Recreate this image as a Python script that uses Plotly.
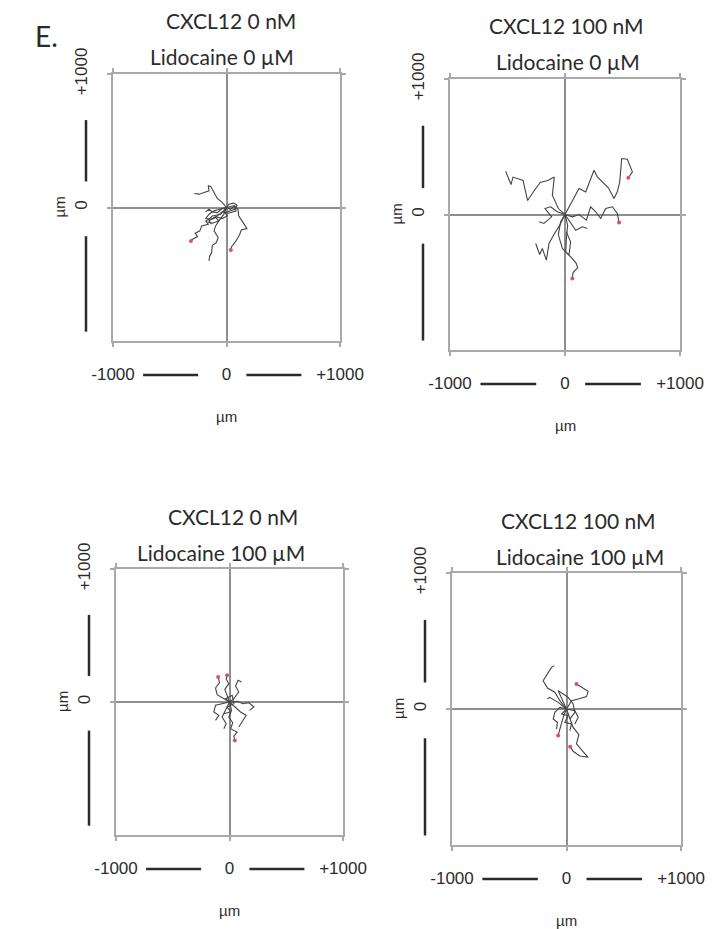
import plotly.graph_objects as go

# ---------------- data ----------------
PANEL_LABEL = "E."
TITLES_TOP = ["CXCL12 0 nM", "CXCL12 100 nM", "CXCL12 0 nM", "CXCL12 100 nM"]
TITLES_BOTTOM = ["Lidocaine 0 µM", "Lidocaine 0 µM", "Lidocaine 100 µM", "Lidocaine 100 µM"]
X_TICKS = [-1000, 0, 1000]
X_TICK_TEXT = ["-1000", "0", "+1000"]
Y_TICKS = [0, 1000]
Y_TICK_TEXT = ["0", "+1000"]
UNIT = "µm"
AXIS_RANGE = [-1000, 1000]

# Panel 1: CXCL12 0 nM / Lidocaine 0 µM (track coordinates in µm)
P1_X = [
    [0, -38, -81, -110, -139, -160, -154, -197, -241, -284],
    [0, -52, -125, -154, -183, -160, -218, -235, -276, -255, -299, -313],
    [0, -23, -67, -96, -110, -73, -90, -125, -131, -148, -154],
    [0, 64, 102, 107, 142, 180, 131, 113, 78, 44, 38],
    [0, -52, -110, -154, -183, -139, -96, -67, -125, -168],
    [0, 20, 64, 93, 73, 35, -9],
    [0, -38, -81, -125, -154, -183],
    [0, 35, 73, 85, 20, -38, -81, -125],
    [0, -23, 6, -38, -96, -154, -131],
]
P1_Y = [
    [0, 38, 68, 113, 158, 163, 125, 113, 100, 105],
    [0, -50, -63, -88, -100, -125, -138, -175, -193, -218, -238, -250],
    [0, -50, -100, -138, -175, -225, -263, -283, -338, -363, -400],
    [0, 13, -13, -63, -108, -158, -168, -208, -258, -293, -318],
    [0, -13, -25, -50, -83, -88, -75, -100, -118, -108],
    [0, 25, 33, 18, -13, -25, -38],
    [0, -8, -38, -33, -13, -33],
    [0, -13, 13, -25, -43, -33, -63, -88],
    [0, -25, -63, -83, -68, -100, -125],
]
P1_RED = [False, True, False, True, False, False, False, False, False]

# Panel 2: CXCL12 100 nM / Lidocaine 0 µM
P2_X = [
    [0, 35, 78, 122, 180, 252, 281, 325, 377, 426, 455, 476, 493, 542, 586, 551],
    [0, -58, -110, -93, -151, -215, -267, -325, -365, -452, -470, -516],
    [0, 64, 122, 186, 223, 267, 310, 354, 412, 455, 470],
    [0, 23, 12, 6, 64, 99, 110, 70, 64],
    [0, -46, -96, -139, -162, -197, -220, -255],
    [0, -67, -125, -174, -116, -183, -226],
    [0, -38, -58, -23, 35, 49, 12],
    [0, 49, 93, 151, 194],
]
P2_Y = [
    [0, 57, 118, 192, 167, 327, 278, 241, 197, 118, 167, 241, 413, 408, 315, 271],
    [0, 44, 143, 276, 251, 236, 177, 103, 251, 276, 221, 320],
    [0, -17, 0, -42, 57, 20, -30, 44, 57, 7, -59],
    [0, -79, -177, -276, -325, -362, -394, -428, -472],
    [0, -79, -148, -214, -337, -251, -295, -214],
    [0, 20, 57, 44, -17, -66, -54],
    [0, -54, -148, -251, -300, -202, -128],
    [0, -66, -116, -91, -103],
]
P2_RED = [True, False, True, True, False, False, False, False]

# Panel 3: CXCL12 0 nM / Lidocaine 100 µM
P3_X = [
    [0, -18, -41, -6, -29, -21],
    [0, -50, -109, -123, -88, -100],
    [0, 38, 82, 53, 76, 106],
    [0, 68, 118, 171, 215, 176],
    [0, 18, -6, 29, 9, 68, 38, 47],
    [0, 53, 97, 147, 112, 82],
    [0, -65, -123, -138, -94, -123],
    [0, -35, -65, -29, -50],
    [0, -35, 24, 38, -21, 9, -50],
]
P3_Y = [
    [0, 50, 95, 138, 171, 201],
    [0, 25, 55, 105, 146, 188],
    [0, 25, 75, 120, 163, 151],
    [0, 5, -13, -5, -38, -63],
    [0, -63, -113, -156, -201, -226, -256, -289],
    [0, -45, -75, -100, -146, -188],
    [0, -13, -25, -75, -100, -138],
    [0, -63, -113, -163, -201],
    [0, 25, 50, -13, -38, -75, -88],
]
P3_RED = [True, True, False, False, True, False, False, False, False]

# Panel 4: CXCL12 100 nM / Lidocaine 100 µM
P4_X = [
    [0, -58, -102, -166, -204, -183, -146, -131, -108],
    [0, 44, 102, 175, 189, 154, 116, 87],
    [0, 29, 58, 108, 87, 137, 189, 116, 58, 32],
    [0, -29, -49, -73],
    [0, -58, -102, -116, -79, -87],
    [0, -44, -73, -29, 15, 58, 73, 29],
    [0, -73, -146, -166],
    [0, 73, 102, 73],
    [0, -44, 15, -15, 44, 29],
]
P4_Y = [
    [0, 61, 123, 154, 208, 238, 282, 306, 319],
    [0, 61, 74, 91, 130, 147, 164, 184],
    [0, -61, -135, -189, -257, -306, -355, -345, -311, -277],
    [0, -61, -123, -194],
    [0, 12, -25, -74, -98, -147],
    [0, 86, 135, 110, 86, 37, -25, -74],
    [0, 49, 86, 74],
    [0, -12, -61, -110],
    [0, -37, -49, -98, -110, -159],
]
P4_RED = [False, True, True, True, False, False, False, False, False]

PANELS = [(P1_X, P1_Y, P1_RED), (P2_X, P2_Y, P2_RED),
          (P3_X, P3_Y, P3_RED), (P4_X, P4_Y, P4_RED)]

# ---------------- layout (pixel-derived domains) ----------------
W, H = 718, 929
BOXES = [  # left, right, top, bottom in pixels
    (105, 332, 66, 333),
    (442, 672, 71, 342),
    (108, 335, 561, 827),
    (444, 673, 565, 837),
]
TITLE_SHIFT = [(4, -5), (1, 3), (3, -9), (12, 13)]  # x shifts of the two title lines

FRAME = "#a9a9a9"
CROSS = "#8f8f8f"
TRACK = "#444444"
RED = "#e0506a"
DARK = "#2b2b2b"
TITLE_FONT = "Lato"
TICK_FONT = "Liberation Sans"

fig = go.Figure()
layout = dict(width=W, height=H, margin=dict(l=0, r=0, t=0, b=0, autoexpand=False),
              paper_bgcolor="white", plot_bgcolor="white", showlegend=False)
shapes, annotations = [], []


def ann(text, xref, yref, x, y, size, family, xshift=0, yshift=0, angle=0):
    return dict(text=text, xref=xref, yref=yref, x=x, y=y, xshift=xshift, yshift=yshift,
                xanchor="center", yanchor="middle", textangle=angle, showarrow=False,
                font=dict(family=family, size=size, color=DARK))


for i, ((px, py, red), (l, r, t, b)) in enumerate(zip(PANELS, BOXES)):
    s = "" if i == 0 else str(i + 1)
    xa, ya = "x" + s, "y" + s
    xs, ys = [], []
    for tx, ty in zip(px, py):
        xs += tx + [None]
        ys += ty + [None]
    fig.add_trace(go.Scatter(x=xs, y=ys, mode="lines", xaxis=xa, yaxis=ya,
                             line=dict(color=TRACK, width=1.1), hoverinfo="skip"))
    ex = [tx[-1] for tx, f in zip(px, red) if f]
    ey = [ty[-1] for ty, f in zip(py, red) if f]
    fig.add_trace(go.Scatter(x=ex, y=ey, mode="markers", xaxis=xa, yaxis=ya,
                             marker=dict(color=RED, size=4), hoverinfo="skip"))

    common = dict(range=AXIS_RANGE, showgrid=False, zeroline=True, zerolinecolor=CROSS,
                  zerolinewidth=1.5, showline=True, linecolor=FRAME, linewidth=2,
                  mirror="ticks", ticks="outside", ticklen=4, tickcolor=FRAME,
                  tickwidth=1.5, fixedrange=True, automargin=False,
                  tickfont=dict(family=TICK_FONT, size=17, color=DARK))
    layout["xaxis" + s] = dict(common, domain=[l / W, r / W], anchor=ya,
                               tickvals=X_TICKS, ticktext=X_TICK_TEXT,
                               ticklabelstandoff=13)
    layout["yaxis" + s] = dict(common, domain=[1 - b / H, 1 - t / H], anchor=xa,
                               tickvals=Y_TICKS, ticktext=Y_TICK_TEXT,
                               tickangle=-90, ticklabelstandoff=13)

    bh = b - t
    bw = r - l
    ylab = -34 / bh
    # dashes between x tick labels
    for x0, x1 in [(-735, -250), (175, 660)]:
        shapes.append(dict(type="line", xref=xa, yref=ya + " domain", x0=x0, x1=x1,
                           y0=ylab, y1=ylab, line=dict(color=DARK, width=2.5)))
    # dashes between y tick labels
    xlab = -27 / bw
    for y0, y1 in [(195, 655), (-215, -930)]:
        shapes.append(dict(type="line", xref=xa + " domain", yref=ya, x0=xlab, x1=xlab,
                           y0=y0, y1=y1, line=dict(color=DARK, width=2.5)))

    # unit labels
    annotations.append(ann(UNIT, xa + " domain", ya + " domain", 0.5, 0, 15, TICK_FONT,
                           yshift=-75))
    annotations.append(ann(UNIT, xa + " domain", ya + " domain", 0, 0.5, 15, TICK_FONT,
                           xshift=-54, angle=-90))
    # titles
    sx1, sx2 = TITLE_SHIFT[i]
    annotations.append(ann(TITLES_TOP[i], xa + " domain", ya + " domain", 0.5, 1, 21,
                           TITLE_FONT, xshift=sx1, yshift=53))
    annotations.append(ann(TITLES_BOTTOM[i], xa + " domain", ya + " domain", 0.5, 1, 21,
                           TITLE_FONT, xshift=sx2, yshift=17))

annotations.append(ann(PANEL_LABEL, "paper", "paper", 38 / W, 1 - 28 / H, 28, TITLE_FONT))

layout["shapes"] = shapes
layout["annotations"] = annotations
fig.update_layout(**layout)
fig.write_html("out.html")
